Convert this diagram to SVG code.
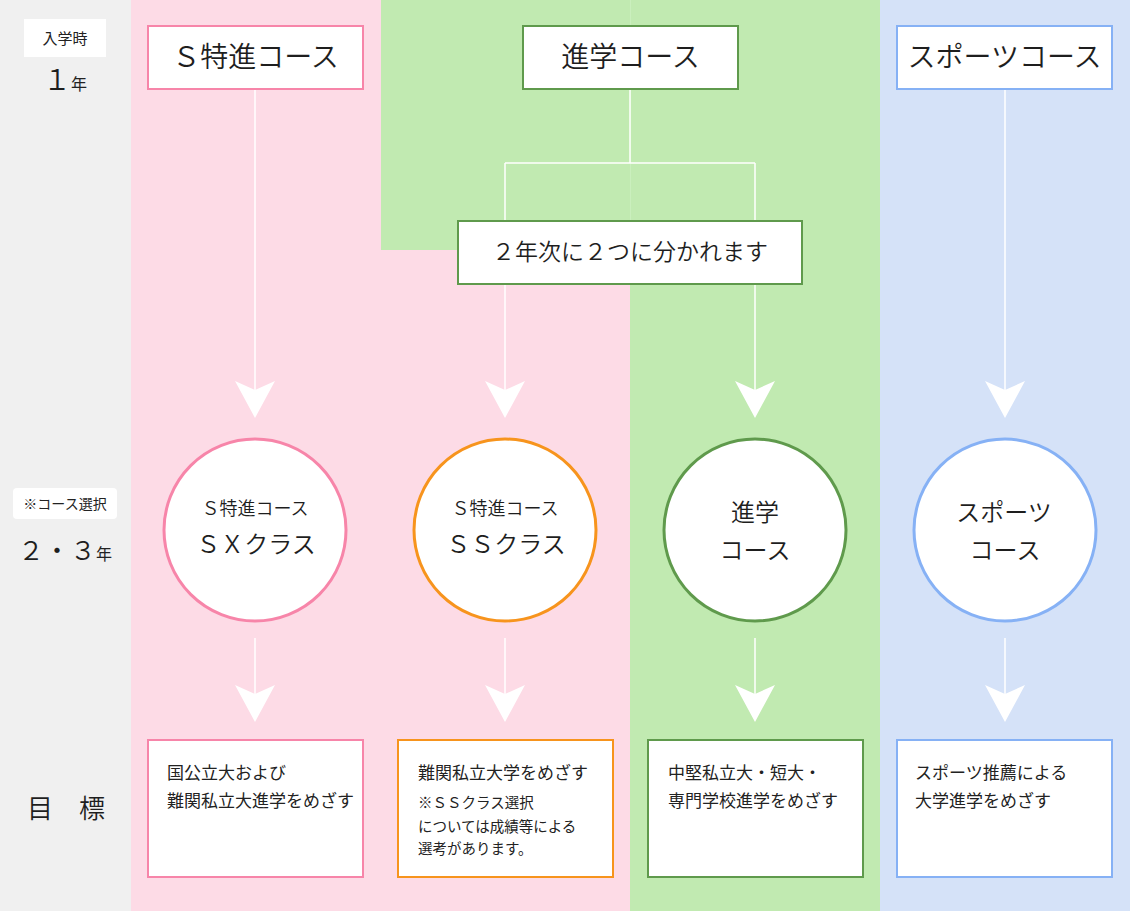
<svg xmlns="http://www.w3.org/2000/svg" width="1130" height="911" viewBox="0 0 1130 911">
<defs>
<style>
.mincho{font-family:"Noto Sans CJK JP","Noto Sans",sans-serif;font-weight:350;fill:#1e1e1e}
.gothic{font-family:"Noto Sans CJK JP","Noto Sans",sans-serif;font-weight:400;fill:#222}
.box{fill:#fff;stroke-width:2}
.circ{fill:#fff;stroke-width:3}
.conn{stroke:#fff;stroke-width:1.5;fill:none}
.head{fill:#fff}
</style>
<path id="ah" d="M0,0 L-20,-37 L0,-28 L20,-37 Z"/>
</defs>
<!-- backgrounds -->
<rect x="0" y="0" width="1130" height="911" fill="#f0f0f0"/>
<rect x="131" y="0" width="499" height="911" fill="#fddbe6"/>
<rect x="381" y="0" width="499" height="250" fill="#c1eab1"/>
<rect x="630" y="250" width="250" height="661" fill="#c1eab1"/>
<line x1="630.5" y1="0" x2="630.5" y2="250" stroke="#caefbd" stroke-width="1"/>
<rect x="880" y="0" width="250" height="911" fill="#d5e2f8"/>

<!-- left labels -->
<g id="label-year1">
<rect x="24" y="19" width="82" height="38" fill="#fff"/>
<text x="65" y="44" class="gothic" font-size="15" text-anchor="middle">入学時</text>
<text x="65" y="90" text-anchor="middle"><tspan class="mincho" font-size="28">１</tspan><tspan class="gothic" font-size="16">年</tspan></text>
</g>
<g id="label-year23">
<rect x="13" y="488" width="104" height="31" rx="4" fill="#fff"/>
<text x="65" y="509" class="gothic" font-size="14" text-anchor="middle">※コース選択</text>
<text x="65" y="560" text-anchor="middle"><tspan class="mincho" font-size="26">２・３</tspan><tspan class="gothic" font-size="16">年</tspan></text>
</g>
<g id="label-goal">
<text x="66" y="818" class="mincho" font-size="26" text-anchor="middle">目　標</text>
</g>

<!-- connectors -->
<g id="connectors">
<line class="conn" x1="255" y1="90" x2="255" y2="395"/>
<line class="conn" x1="630" y1="90" x2="630" y2="163"/>
<line class="conn" x1="505" y1="163" x2="755" y2="163"/>
<line class="conn" x1="505" y1="163" x2="505" y2="220"/>
<line class="conn" x1="755" y1="163" x2="755" y2="220"/>
<line class="conn" x1="505" y1="284" x2="505" y2="395"/>
<line class="conn" x1="755" y1="284" x2="755" y2="395"/>
<line class="conn" x1="1005" y1="90" x2="1005" y2="395"/>
<use href="#ah" class="head" x="255" y="418"/>
<use href="#ah" class="head" x="505" y="418"/>
<use href="#ah" class="head" x="755" y="418"/>
<use href="#ah" class="head" x="1005" y="418"/>
<line class="conn" x1="255" y1="638" x2="255" y2="700"/>
<line class="conn" x1="505" y1="638" x2="505" y2="700"/>
<line class="conn" x1="755" y1="638" x2="755" y2="700"/>
<line class="conn" x1="1005" y1="638" x2="1005" y2="700"/>
<use href="#ah" class="head" x="255" y="722"/>
<use href="#ah" class="head" x="505" y="722"/>
<use href="#ah" class="head" x="755" y="722"/>
<use href="#ah" class="head" x="1005" y="722"/>
</g>

<!-- top course boxes -->
<g id="top-s">
<rect class="box" x="148" y="26" width="215" height="63" stroke="#f785a9"/>
<text x="255.5" y="67" class="mincho" font-size="28" text-anchor="middle">Ｓ特進コース</text>
</g>
<g id="top-shingaku">
<rect class="box" x="523" y="26" width="215" height="63" stroke="#5f9a4c"/>
<text x="630.5" y="67" class="mincho" font-size="28" text-anchor="middle">進学コース</text>
</g>
<g id="top-sports">
<rect class="box" x="897" y="26" width="215" height="63" stroke="#86b1f5"/>
<text x="1004.5" y="67" class="mincho" font-size="28" text-anchor="middle">スポーツコース</text>
</g>
<g id="split">
<rect class="box" x="458" y="221" width="344" height="63" stroke="#5f9a4c"/>
<text x="630" y="260" class="mincho" font-size="23" text-anchor="middle">２年次に２つに分かれます</text>
</g>

<!-- circles -->
<g id="circle-sx">
<circle class="circ" cx="255" cy="530" r="91" stroke="#f785a9"/>
<text x="255" y="515" class="mincho" font-size="18" text-anchor="middle">Ｓ特進コース</text>
<text x="256" y="553" class="mincho" font-size="24" text-anchor="middle">ＳＸクラス</text>
</g>
<g id="circle-ss">
<circle class="circ" cx="505" cy="530" r="91" stroke="#f7941d"/>
<text x="505" y="515" class="mincho" font-size="18" text-anchor="middle">Ｓ特進コース</text>
<text x="506" y="553" class="mincho" font-size="24" text-anchor="middle">ＳＳクラス</text>
</g>
<g id="circle-shingaku">
<circle class="circ" cx="755" cy="530" r="91" stroke="#5f9a4c"/>
<text x="755" y="521" class="mincho" font-size="24" text-anchor="middle">進学</text>
<text x="755" y="559" class="mincho" font-size="24" text-anchor="middle">コース</text>
</g>
<g id="circle-sports">
<circle class="circ" cx="1005" cy="530" r="91" stroke="#86b1f5"/>
<text x="1004" y="521" class="mincho" font-size="24" text-anchor="middle">スポーツ</text>
<text x="1005" y="559" class="mincho" font-size="24" text-anchor="middle">コース</text>
</g>

<!-- goal boxes -->
<g id="goal-sx">
<rect class="box" x="148" y="740" width="215" height="137" stroke="#f785a9"/>
<text x="167" y="779" class="gothic" font-size="17">国公立大および</text>
<text x="167" y="807" class="gothic" font-size="17">難関私立大進学をめざす</text>
</g>
<g id="goal-ss">
<rect class="box" x="398" y="740" width="215" height="137" stroke="#f7941d"/>
<text x="418" y="779" class="gothic" font-size="17">難関私立大学をめざす</text>
<text x="418" y="808" class="gothic" font-size="14.5">※ＳＳクラス選択</text>
<text x="418" y="832" class="gothic" font-size="14.5">については成績等による</text>
<text x="418" y="854" class="gothic" font-size="14.5">選考があります。</text>
</g>
<g id="goal-shingaku">
<rect class="box" x="648" y="740" width="215" height="137" stroke="#5f9a4c"/>
<text x="668" y="779" class="gothic" font-size="17">中堅私立大・短大・</text>
<text x="668" y="807" class="gothic" font-size="17">専門学校進学をめざす</text>
</g>
<g id="goal-sports">
<rect class="box" x="897" y="740" width="215" height="137" stroke="#86b1f5"/>
<text x="915" y="779" class="gothic" font-size="17">スポーツ推薦による</text>
<text x="915" y="807" class="gothic" font-size="17">大学進学をめざす</text>
</g>
</svg>
